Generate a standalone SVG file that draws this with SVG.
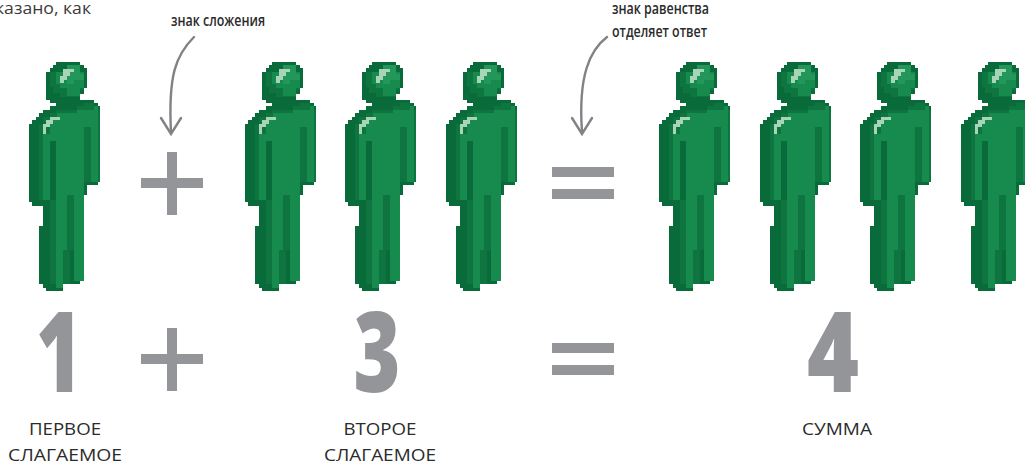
<svg xmlns="http://www.w3.org/2000/svg" width="1025" height="462" viewBox="0 0 1025 462">
<style>
.d{fill:#0a6b3a}.m{fill:#0e7541}.l{fill:#178a4e}.b{fill:#23965a}.p{fill:#a8d5b8}
.sign{fill:#939598}
.num{font-family:"Open Sans","Noto Sans",sans-serif;font-weight:800;font-size:111px;fill:#939598;text-anchor:middle}
.lab{font-family:"Open Sans","Noto Sans",sans-serif;font-size:17px;fill:#2b2b2b;text-anchor:middle}
.note{font-family:"Open Sans","Noto Sans",sans-serif;font-size:16px;font-weight:600;fill:#2b2b2b}
.top{font-family:"Open Sans","Noto Sans",sans-serif;font-size:17px;fill:#3a3a3a}
.arr{fill:none;stroke:#808285;stroke-width:2.4;stroke-linecap:round;stroke-linejoin:miter}
</style>
<defs>
<g id="person" shape-rendering="crispEdges">
<path class="d" d="M56 62H80V65H84V68H87V88H84V94H80V100H94V103H98V106H100V182H98V185H87V195H84V281H80V284H63V291H46V288H43V284H39V226H43V206H32V202H29V124H32V120H36V117H39V113H43V110H50V106H56V103H50V100H46V72H50V68H53V65H56Z"/>
<path class="m" d="M50 72H84V90H80V97H60V93H53V87H50Z"/>
<path class="l" d="M56 72H84V88H80V96H67V88H60V84H56Z"/>
<path class="b" d="M67 65H80V74H84V80H74V84H67Z"/>
<path class="m" d="M39 124H43V117H50V113H56V110H77V106H84V103H94V110H100V182H98V130H84V195H50V141H56V206H50V195H43V200H39Z"/>
<path class="l" d="M57 113H77V110H94V106H98V182H91V127H84V281H74V195H67V250H63V288H56V141H50V127H46V120H57Z"/>
<path class="l" d="M43 134H50V200H43Z"/>
<path class="d" d="M50 141H56V200H50Z"/>
<path class="m" d="M84 127H91V182H84ZM50 206H56V284H50ZM67 195H74V250H67ZM63 250H70V284H63Z"/>
<path class="p" d="M63 69H74V72H70V76H67V80H64V83H60V76H63Z"/>
<path class="p" d="M50 117H60V120H53V124H50V127H46V134H43V124H46V120H50Z"/>
</g>
<path id="plus" class="sign" d="M167 0H177V26H203V36H177V63H167V36H141V26H167Z" shape-rendering="crispEdges"/>
<path id="equals" class="sign" d="M552 0H614V10H552ZM552 22H614V32H552Z" shape-rendering="crispEdges"/>
</defs>
<text class="top" x="-5" y="14" textLength="96" lengthAdjust="spacingAndGlyphs">казано, как</text>
<g id="figures">
<g id="person-1"><use href="#person"/></g>
<g id="person-2"><use href="#person" x="216"/></g>
<g id="person-3"><use href="#person" x="316"/></g>
<g id="person-4"><use href="#person" x="417"/></g>
<g id="person-5"><use href="#person" x="630"/></g>
<g id="person-6"><use href="#person" x="731"/></g>
<g id="person-7"><use href="#person" x="831"/></g>
<g id="person-8"><use href="#person" x="932"/></g>
</g>
<g id="signs">
<g id="plus-top"><use href="#plus" y="152"/></g>
<g id="equals-top"><use href="#equals" y="167"/></g>
<g id="plus-bottom"><use href="#plus" y="328"/></g>
<g id="equals-bottom"><use href="#equals" y="343"/></g>
</g>
<g id="connectors">
<path class="arr" d="M194 37C176 55 168 75 171 132"/>
<path class="arr" d="M161 118L171 134L181 118"/>
<path class="arr" d="M607 37C590 50 578 75 582 132"/>
<path class="arr" d="M572 118L582 134L592 118"/>
</g>
<g id="notes">
<text class="note" x="171" y="26" textLength="94" lengthAdjust="spacingAndGlyphs">знак сложения</text>
<text class="note" x="612" y="14" textLength="97" lengthAdjust="spacingAndGlyphs">знак равенства</text>
<text class="note" x="612" y="37" textLength="95" lengthAdjust="spacingAndGlyphs">отделяет ответ</text>
</g>
<g id="numbers">
<text class="num" x="59" y="392" textLength="46" lengthAdjust="spacingAndGlyphs">1</text>
<text class="num" x="377" y="392" textLength="47" lengthAdjust="spacingAndGlyphs">3</text>
<text class="num" x="833" y="392" textLength="52" lengthAdjust="spacingAndGlyphs">4</text>
</g>
<g id="labels">
<text class="lab" x="65" y="435" textLength="72" lengthAdjust="spacingAndGlyphs">ПЕРВОЕ</text>
<text class="lab" x="65" y="461" textLength="114" lengthAdjust="spacingAndGlyphs">СЛАГАЕМОЕ</text>
<text class="lab" x="380" y="435" textLength="73" lengthAdjust="spacingAndGlyphs">ВТОРОЕ</text>
<text class="lab" x="380" y="461" textLength="112" lengthAdjust="spacingAndGlyphs">СЛАГАЕМОЕ</text>
<text class="lab" x="837" y="435" textLength="70" lengthAdjust="spacingAndGlyphs">СУММА</text>
</g>
</svg>
